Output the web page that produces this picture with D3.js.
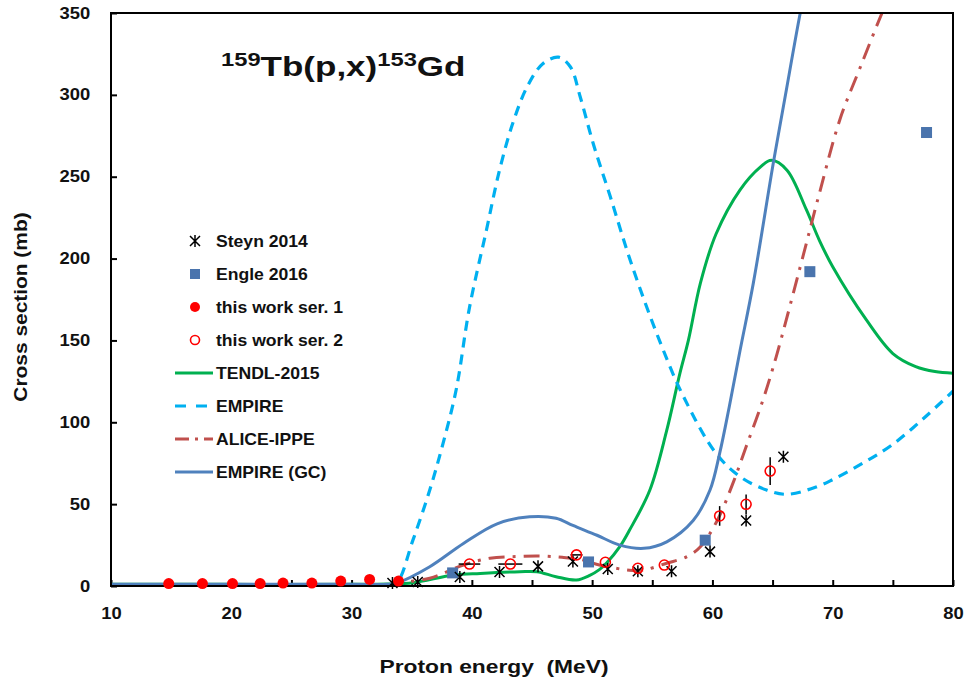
<!DOCTYPE html>
<html><head><meta charset="utf-8">
<script src="https://cdn.jsdelivr.net/npm/d3@7"></script>
<style>
html,body{margin:0;padding:0;background:#fff;}
text{font-family:"Liberation Sans",Arial,sans-serif;font-weight:bold;fill:#111;}
</style></head>
<body>
<svg id="chart" width="967" height="687"></svg>
<script>
// ---------- data ----------
const xTicks = [10,20,30,40,50,60,70,80];
const yTicks = [0,50,100,150,200,250,300,350];

const steynE = [33.4,35.5,39.0,42.3,45.5,48.4,51.3,53.8,56.6,59.8,62.8,65.9];
const steynV = [1.8,2.5,5.5,8.5,12,15,10.4,9,9,21,40,79];

const engleE = [38.4,49.7,59.4,68.1,77.8];
const engleV = [8,14.7,28,192,277];

const ser1E = [14.8,17.6,20.1,22.4,24.3,26.7,29.1,31.5,33.9];
const ser1V = [1.5,1.5,1.5,1.5,1.8,1.8,3,4,3];

const ser2E = [39.8,43.2,48.7,51.1,53.8,56.0,60.6,62.8,64.8];
const ser2V = [13.4,13.4,19,14.5,10.8,12.8,42.8,49.9,70.2];
const ser2dE = [0.9,1.0,0.5,0,0,0,0,0,0];
const ser2dV = [0,0,0,0,0,0,6,6,8.5];

const tendlE = [10,20,30,33,35.1,38.5,40.7,44,45.4,47,48.7,49.8,50.6,51.2,52.3,53.1,54.8,56.2,57.3,58,59,60.3,62.3,64,64.9,66.2,67.8,68.9,70,72.8,75,76.9,78.5,80];
const tendlV = [1,1,1,1.2,2,6.7,7.7,8.7,8.7,5.7,3.7,6.5,10,14,24,34,58.6,95,130,150,185,215,242,256,260,254,230,211,195,162.5,142,134,131,130];

const empireE = [33,33.75,35.1,36.5,37.6,38.7,39.8,41.2,42.3,43.4,44.6,45.9,47.2,48.2,49.0,50.1,51.5,53.3,55.7,57.6,60.3,62.3,64.5,66.2,68.7,70,72.5,74.9,77.5,80];
const empireV = [0.5,1.8,28,58.6,87,120,170,217,254,282.6,305,319,323,317,299,270,238,196,148,115.6,81,66.8,58.6,56,60.7,65,75,86,102,119];

const aliceE = [33,33.75,36.5,39.3,41.5,43.7,45.7,47.5,49,50.6,52,53.1,54.3,56.2,57.9,59,60.4,61.7,62.8,64.2,65.3,67.3,68.9,70.6,72.3,74.1,75];
const aliceV = [0.5,1.8,4.7,12.8,17,18,18.3,17.5,16.3,12.8,10.8,9.6,9.8,13.9,18,24,40,62.7,85,113.6,140,195,240,285,317,350,365];

const gcE = [10,20,30,33,33.75,36.5,39.3,42.1,44.8,47,48.4,50.4,52.3,54.3,56.2,58.4,59.8,60.6,61.4,62.3,63.4,65.1,66,67.3,68];
const gcV = [1,1,1,1,1.8,11.8,26,38,42.3,41.4,37,31,25,23,27,40,58.6,81,109.5,144,185,260,297,350,375];

const legendLabels = ["Steyn 2014","Engle 2016","this work ser. 1","this work ser. 2","TENDL-2015","EMPIRE","ALICE-IPPE","EMPIRE (GC)"];

// ---------- setup ----------
const svg = d3.select("#chart");
const L=111, R=953, T=13, B=586;
const x = d3.scaleLinear().domain([10,80]).range([L,R]);
const y = d3.scaleLinear().domain([0,350]).range([B,T]);

const C = {tendl:"#00b050", empire:"#00b0f0", alice:"#c0504d", gc:"#4f81bd", engle:"#4a74ad", red:"#ff0000"};

svg.append("defs").append("clipPath").attr("id","clip")
  .append("rect").attr("x",L).attr("y",T).attr("width",R-L).attr("height",B-T);

// axes
const xAxis = d3.axisBottom(x).tickValues(d3.range(10,81,5))
  .tickFormat(d => d%10===0 ? d : "").tickSizeInner(-6).tickSizeOuter(0).tickPadding(22);
const gx = svg.append("g").attr("transform",`translate(0,${B})`).call(xAxis);
gx.select(".domain").remove();
gx.selectAll("line").attr("stroke","#000").attr("stroke-width",2);
gx.selectAll("text").attr("font-size",16).attr("fill","#111").attr("transform","scale(1.15,1)")
  .attr("font-family","Liberation Sans, Arial, sans-serif").attr("font-weight","bold");

const yAxis = d3.axisLeft(y).tickValues(yTicks).tickSizeInner(-6).tickSizeOuter(0).tickPadding(18);
const gy = svg.append("g").attr("transform",`translate(${L},0)`).call(yAxis);
gy.select(".domain").remove();
gy.selectAll("line").attr("stroke","#000").attr("stroke-width",2);
gy.selectAll("text").attr("font-size",16).attr("fill","#111").attr("transform","scale(1.15,1)")
  .attr("font-family","Liberation Sans, Arial, sans-serif").attr("font-weight","bold");

// curves
const plot = svg.append("g").attr("clip-path","url(#clip)");
function curve(E,V){ return d3.line().x((d,i)=>x(E[i])).y((d,i)=>y(V[i])).curve(d3.curveCatmullRom.alpha(0.5))(E); }
plot.append("path").attr("d",curve(tendlE,tendlV)).attr("fill","none").attr("stroke",C.tendl).attr("stroke-width",3);
plot.append("path").attr("d",curve(empireE,empireV)).attr("fill","none").attr("stroke",C.empire).attr("stroke-width",3.2).attr("stroke-dasharray","10,7");
plot.append("path").attr("d",curve(aliceE,aliceV)).attr("fill","none").attr("stroke",C.alice).attr("stroke-width",3).attr("stroke-dasharray","16,8,3,8");
plot.append("path").attr("d",curve(gcE,gcV)).attr("fill","none").attr("stroke",C.gc).attr("stroke-width",3);

// frame
svg.append("rect").attr("x",L).attr("y",T).attr("width",R-L).attr("height",B-T)
  .attr("fill","none").attr("stroke","#000").attr("stroke-width",2);

// markers
const star = "M-5,-5L5,5M-5,5L5,-5M0,-6L0,6";
const mk = svg.append("g");
ser2E.forEach((e,i)=>{
  if(ser2dE[i]>0) mk.append("line").attr("x1",x(e-ser2dE[i])).attr("x2",x(e+ser2dE[i])).attr("y1",y(ser2V[i])).attr("y2",y(ser2V[i])).attr("stroke","#000").attr("stroke-width",1.5);
  if(ser2dV[i]>0) mk.append("line").attr("x1",x(e)).attr("x2",x(e)).attr("y1",y(ser2V[i]-ser2dV[i])).attr("y2",y(ser2V[i]+ser2dV[i])).attr("stroke","#000").attr("stroke-width",1.5);
});
engleE.forEach((e,i)=> mk.append("rect").attr("x",x(e)-5.5).attr("y",y(engleV[i])-5.5).attr("width",11).attr("height",11).attr("fill",C.engle));
steynE.forEach((e,i)=> mk.append("path").attr("d",star).attr("transform",`translate(${x(e)},${y(steynV[i])})`).attr("stroke","#000").attr("stroke-width",1.5).attr("fill","none"));
ser1E.forEach((e,i)=> mk.append("circle").attr("cx",x(e)).attr("cy",y(ser1V[i])).attr("r",5.5).attr("fill",C.red));
ser2E.forEach((e,i)=> mk.append("circle").attr("cx",x(e)).attr("cy",y(ser2V[i])).attr("r",5).attr("fill","none").attr("stroke",C.red).attr("stroke-width",1.6));

// legend
const lg = svg.append("g");
const ly0 = 241, ldy = 33;
legendLabels.forEach((t,i)=>{
  const yy = ly0 + i*ldy;
  lg.append("text").attr("transform",`translate(216,${yy+6}) scale(1.1,1)`).attr("font-size",16).text(t);
  if(i===0) lg.append("path").attr("d",star).attr("transform",`translate(195,${yy})`).attr("stroke","#000").attr("stroke-width",1.5).attr("fill","none");
  if(i===1) lg.append("rect").attr("x",190).attr("y",yy-5).attr("width",10).attr("height",10).attr("fill",C.engle);
  if(i===2) lg.append("circle").attr("cx",195).attr("cy",yy).attr("r",5).attr("fill",C.red);
  if(i===3) lg.append("circle").attr("cx",195).attr("cy",yy).attr("r",4.5).attr("fill","none").attr("stroke",C.red).attr("stroke-width",1.6);
  if(i===4) lg.append("line").attr("x1",175).attr("x2",213).attr("y1",yy).attr("y2",yy).attr("stroke",C.tendl).attr("stroke-width",3);
  if(i===5) lg.append("line").attr("x1",175).attr("x2",213).attr("y1",yy).attr("y2",yy).attr("stroke",C.empire).attr("stroke-width",3).attr("stroke-dasharray","11,10");
  if(i===6) lg.append("line").attr("x1",175).attr("x2",213).attr("y1",yy).attr("y2",yy).attr("stroke",C.alice).attr("stroke-width",3).attr("stroke-dasharray","14,6,3,6");
  if(i===7) lg.append("line").attr("x1",175).attr("x2",213).attr("y1",yy).attr("y2",yy).attr("stroke",C.gc).attr("stroke-width",3);
});

// title
const tt = svg.append("text").attr("transform","translate(221,76) scale(1.25,1)").attr("font-size",28);
tt.append("tspan").attr("font-size",19).attr("dy",-10).text("159");
tt.append("tspan").attr("dy",10).text("Tb(p,x)");
tt.append("tspan").attr("font-size",19).attr("dy",-10).text("153");
tt.append("tspan").attr("dy",10).text("Gd");

// axis titles
svg.append("text").attr("transform","translate(494,673) scale(1.2,1)").attr("text-anchor","middle").attr("font-size",19).attr("xml:space","preserve").text("Proton energy  (MeV)");
svg.append("text").attr("transform","translate(27,307) rotate(-90) scale(1.1,1)").attr("text-anchor","middle").attr("font-size",19).text("Cross section (mb)");
</script>
</body></html>
